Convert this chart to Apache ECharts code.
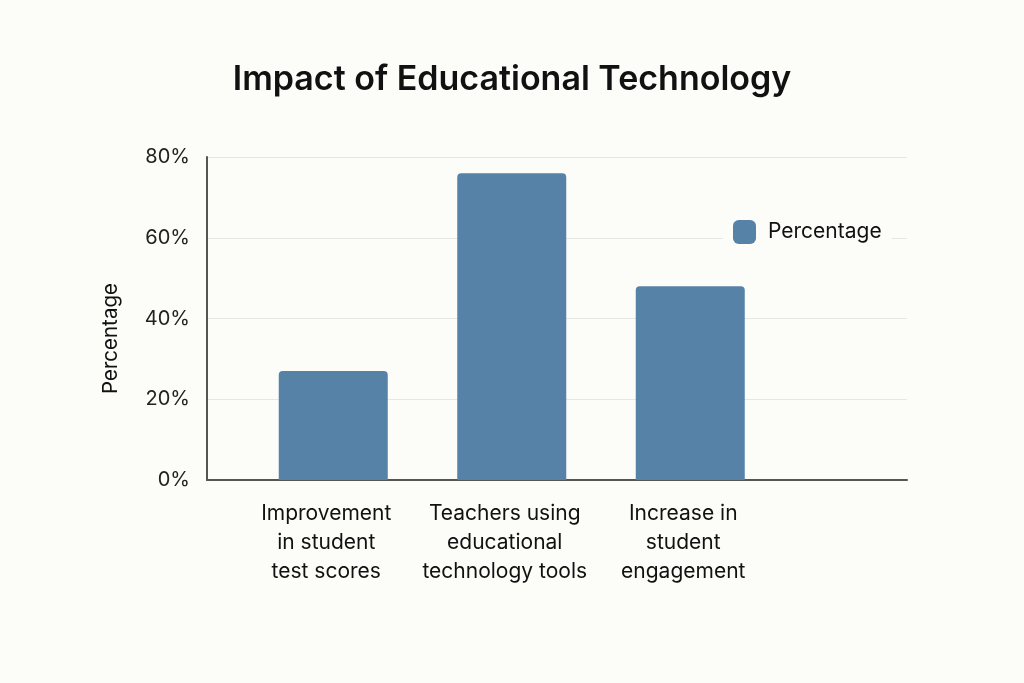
<!DOCTYPE html>
<html>
<head>
<meta charset="utf-8">
<script src="https://cdn.jsdelivr.net/npm/echarts@6/dist/echarts.min.js"></script>
<style>
  html, body { margin: 0; padding: 0; background: #fcfcf9; }
  #chart { width: 1024px; height: 683px; }
</style>
</head>
<body>
<div id="chart"></div>
<script>
const titleText = "Impact of Educational Technology";
const categories = [
  "Improvement\nin student\ntest scores",
  "Teachers using\neducational\ntechnology tools",
  "Increase in\nstudent\nengagement"
];
const seriesName = "Percentage";
const values = [27, 76, 48];
const yTicks = { min: 0, max: 80, interval: 20 };
const yAxisName = "Percentage";

const font = "Inter, 'Noto Sans', sans-serif";
const chart = echarts.init(document.getElementById('chart'), null, { renderer: 'canvas' });
chart.setOption({
  backgroundColor: '#fcfcf9',
  animation: false,
  title: {
    text: titleText,
    left: 'center',
    top: 58,
    textStyle: { fontFamily: font, fontSize: 34, fontWeight: 600, color: '#111' }
  },
  legend: {
    data: [seriesName],
    left: 723,
    top: 212,
    padding: [8, 10],
    backgroundColor: '#fcfcf9',
    icon: 'roundRect',
    itemWidth: 23,
    itemHeight: 24,
    itemGap: 10,
    textStyle: { fontFamily: font, fontSize: 21, color: '#111', padding: [0, 0, 0, 7] }
  },
  grid: [
    { left: 207, top: 157, width: 700, height: 323 },
    { left: 244, top: 157, width: 535.5, height: 323 }
  ],
  xAxis: [
    {
      gridIndex: 0, type: 'value', min: 0, max: 1,
      axisLine: { show: true, lineStyle: { color: '#555', width: 2 } },
      axisTick: { show: false }, axisLabel: { show: false }, splitLine: { show: false }
    },
    {
      gridIndex: 1, type: 'category', data: categories,
      axisLine: { show: false }, axisTick: { show: false },
      axisLabel: { fontFamily: font, fontSize: 21, lineHeight: 29, color: '#111', margin: 19, interval: 0, padding: [0, 14, 0, 0] }
    }
  ],
  yAxis: [
    {
      gridIndex: 0, type: 'value', min: yTicks.min, max: yTicks.max, interval: yTicks.interval,
      name: yAxisName, nameLocation: 'middle', nameRotate: 90, nameGap: 86,
      nameTextStyle: { fontFamily: font, fontSize: 20.5, color: '#111', padding: [0, 40, 0, 0] },
      axisLine: { show: true, lineStyle: { color: '#555', width: 2 } },
      axisTick: { show: false },
      axisLabel: { formatter: '{value}%', fontFamily: font, fontSize: 20, color: '#222', margin: 17 },
      splitLine: { lineStyle: { color: '#e6e6e3', width: 1 } }
    },
    {
      gridIndex: 1, type: 'value', min: yTicks.min, max: yTicks.max, show: false
    }
  ],
  series: [
    {
      name: seriesName,
      type: 'bar',
      xAxisIndex: 1, yAxisIndex: 1,
      data: values,
      barWidth: 109,
      itemStyle: { color: '#5682a8', borderRadius: [4, 4, 0, 0] }
    }
  ]
});
</script>
</body>
</html>
